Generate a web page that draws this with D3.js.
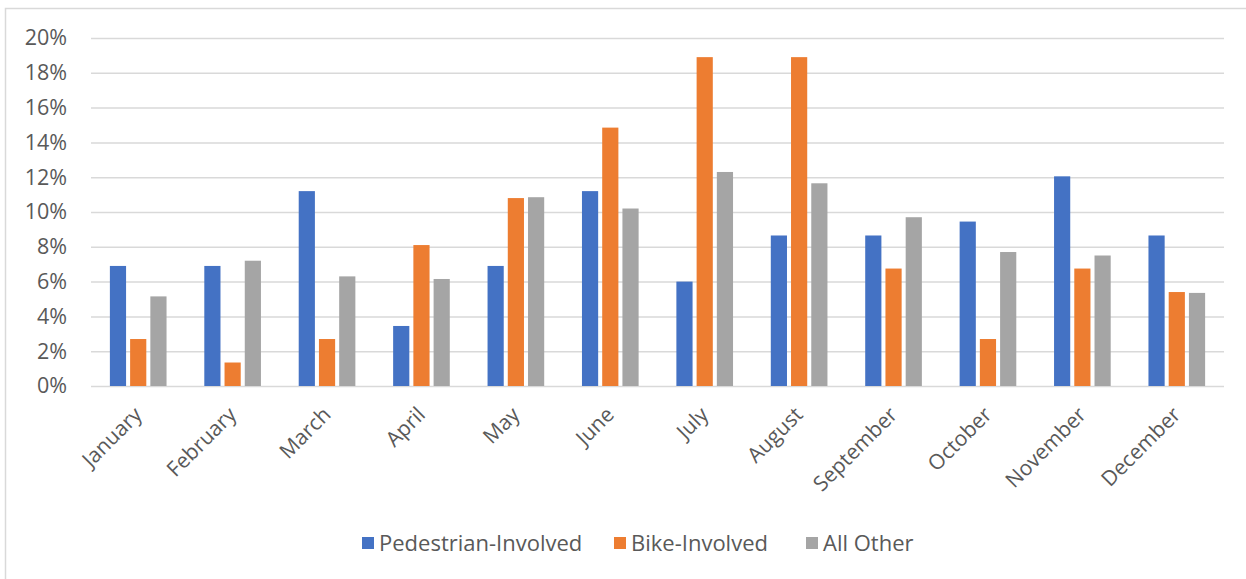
<!DOCTYPE html>
<meta charset="utf-8">
<head>
<style>
  body { margin: 0; background: #fff; }
  text { font-family: "Open Sans", sans-serif; fill: #595959; }
</style>
</head>
<body>
<script src="https://d3js.org/d3.v7.min.js"></script>
<script>

// data (share of crashes per month)
var months = ["January", "February", "March", "April", "May", "June",
              "July", "August", "September", "October", "November", "December"];
var seriesNames = ["Pedestrian-Involved", "Bike-Involved", "All Other"];
var pedestrian = [6.9, 6.9, 11.2, 3.45, 6.9, 11.2, 6.0, 8.65, 8.65, 9.45, 12.05, 8.65];
var bike = [2.7, 1.35, 2.7, 8.1, 10.8, 14.85, 18.9, 18.9, 6.75, 2.7, 6.75, 5.4];
var allOther = [5.15, 7.2, 6.3, 6.15, 10.85, 10.2, 12.3, 11.65, 9.7, 7.7, 7.5, 5.35];
var yTicks = [0, 2, 4, 6, 8, 10, 12, 14, 16, 18, 20];
var colors = ["#4472C4", "#ED7D31", "#A5A5A5"];

var width = 1246,
    height = 579;

var margin = {left: 91, right: 22, top: 38, bottom: 193};

var svg = d3.select("body").append("svg")
    .attr("width", width)
    .attr("height", height);

// chart frame
svg.append("rect")
    .attr("x", 5.5)
    .attr("y", 8.5)
    .attr("width", 1260)
    .attr("height", 600)
    .attr("fill", "none")
    .attr("stroke", "#D9D9D9")
    .attr("stroke-width", 1.5);

var x0 = d3.scaleBand()
    .domain(months)
    .range([margin.left, width - margin.right])
    .paddingInner(0.4)
    .paddingOuter(0.2);

var x1 = d3.scaleBand()
    .domain(seriesNames)
    .range([0, x0.bandwidth()])
    .paddingInner(0.2);

var y = d3.scaleLinear()
    .domain([0, 20])
    .range([height - margin.bottom, margin.top]);

var color = d3.scaleOrdinal().domain(seriesNames).range(colors);

var rows = months.map(function(m, i) {
  return {month: m, values: [
    {key: seriesNames[0], value: pedestrian[i]},
    {key: seriesNames[1], value: bike[i]},
    {key: seriesNames[2], value: allOther[i]}
  ]};
});

// gridlines + y labels
var yAxis = svg.append("g")
    .attr("transform", "translate(" + margin.left + ",0)")
    .call(d3.axisLeft(y)
        .tickValues(yTicks)
        .tickSize(-(width - margin.left - margin.right))
        .tickPadding(24)
        .tickFormat(function(d) { return d + "%"; }));

yAxis.select(".domain").remove();
yAxis.selectAll("line")
    .attr("stroke", "#D9D9D9")
    .attr("stroke-width", 1.5);
yAxis.selectAll("text")
    .style("font-size", "21.5px")
    .attr("fill", "#595959");

// bars
var group = svg.append("g")
  .selectAll("g")
  .data(rows)
  .enter().append("g")
    .attr("transform", function(d) { return "translate(" + x0(d.month) + ",0)"; });

group.selectAll("rect")
    .data(function(d) { return d.values; })
    .enter().append("rect")
      .attr("x", function(d) { return x1(d.key); })
      .attr("y", function(d) { return y(d.value); })
      .attr("width", x1.bandwidth())
      .attr("height", function(d) { return y(0) - y(d.value); })
      .attr("fill", function(d) { return color(d.key); });

// x labels
var xAxis = svg.append("g")
    .attr("transform", "translate(0," + y(0) + ")")
    .call(d3.axisBottom(x0).tickSize(0).tickPadding(0));

xAxis.select(".domain").remove();
xAxis.selectAll("text")
    .style("font-size", "21px")
    .attr("fill", "#595959")
    .attr("text-anchor", "end")
    .attr("dy", null)
    .attr("y", null)
    .attr("transform", "translate(5,30) rotate(-45)");

// legend
var legendX = [362, 614, 806];
var legend = svg.append("g")
  .selectAll("g")
  .data(seriesNames)
  .enter().append("g")
    .attr("transform", function(d, i) { return "translate(" + legendX[i] + ",543)"; });

legend.append("rect")
    .attr("x", 0)
    .attr("y", -6)
    .attr("width", 12)
    .attr("height", 12)
    .attr("fill", function(d) { return color(d); });

legend.append("text")
    .attr("x", 17)
    .attr("dy", "0.35em")
    .style("font-size", "22px")
    .text(function(d) { return d; });

</script>
</body>
